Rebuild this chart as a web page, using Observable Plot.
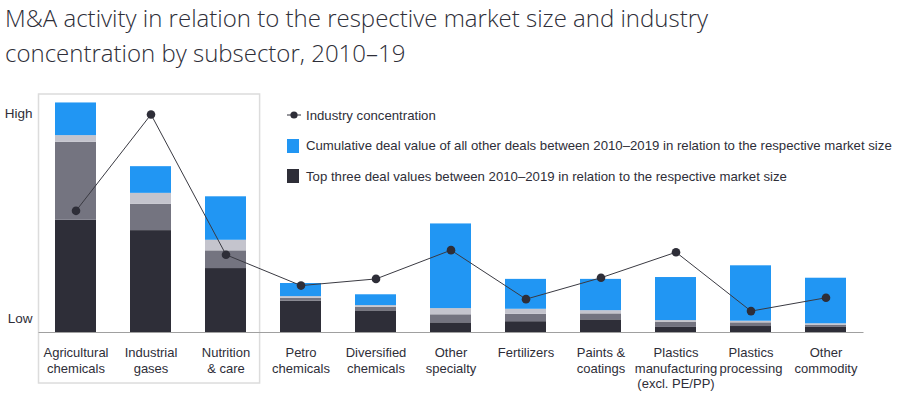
<!DOCTYPE html>
<html>
<head>
<meta charset="utf-8">
<script src="https://cdn.jsdelivr.net/npm/d3@7"></script>
<script src="https://cdn.jsdelivr.net/npm/@observablehq/plot@0.6"></script>
<style>
  html, body { margin: 0; padding: 0; background: #fff; }
  body { width: 900px; height: 398px; position: relative; overflow: hidden; font-family: "Liberation Sans", Arial, sans-serif; color: #2e2e38; }
  #title { position: absolute; left: 5px; top: 0; font-family: "Open Sans", "Liberation Sans", sans-serif; font-size: 24px; line-height: 35px; color: #2e2e38; font-weight: 300; white-space: nowrap; }
  #chart { position: absolute; left: 0; top: 80px; }
  #legend { position: absolute; left: 287px; top: 105px; font-size: 13.2px; color: #2e2e38; }
  .li { display: flex; align-items: center; height: 20px; margin-bottom: 10.5px; white-space: nowrap; }
  .sw { display: inline-block; width: 12px; height: 14px; margin-right: 7px; }
  .ln { margin-right: 5px; }
</style>
</head>
<body>
<div id="title">M&amp;A activity in relation to the respective market size and industry<br>concentration by subsector, 2010–19</div>
<div id="chart"></div>
<div id="legend"></div>
<script>
// ---- data ----
const categories = [
  "Agricultural\nchemicals", "Industrial\ngases", "Nutrition\n& care", "Petro\nchemicals",
  "Diversified\nchemicals", "Other\nspecialty", "Fertilizers", "Paints &\ncoatings",
  "Plastics\nmanufacturing\n(excl. PE/PP)", "Plastics\nprocessing", "Other\ncommodity"
];
const seriesNames = ["Top deal 1", "Top deal 2", "Top deal 3", "All other deals"];
const topDeal1 = [48.8, 44.3, 27.8, 13.6, 9.4, 4.2, 4.7, 5.5, 2.2, 2.6, 2.2];
const topDeal2 = [33.9, 11.4, 7.7, 1.3, 1.6, 3.5, 3.2, 2.6, 2.3, 1.6, 0.9];
const topDeal3 = [2.9, 4.8, 4.6, 0.7, 0.7, 2.7, 2.2, 1.4, 0.7, 0.7, 0.7];
const otherDeals = [14.2, 11.6, 18.9, 5.7, 4.7, 36.8, 13.0, 13.6, 18.7, 24.1, 19.8];
const concentration = [52.9, 94.8, 33.8, 20.4, 23.3, 35.8, 14.5, 23.8, 34.9, 9.3, 15.1];
const yTickValues = [6.1, 95.3];
const yTickLabels = ["Low", "High"];
const seriesColors = ["#2e2e38", "#747480", "#c4c4cd", "#2196f3"];
const legendItems = [
  {type: "line", label: "Industry concentration"},
  {type: "swatch", color: "#2196f3", label: "Cumulative deal value of all other deals between 2010–2019 in relation to the respective market size"},
  {type: "swatch", color: "#2e2e38", label: "Top three deal values between 2010–2019 in relation to the respective market size"}
];

// ---- tables ----
const seriesValues = [topDeal1, topDeal2, topDeal3, otherDeals];
const stacked = [];
categories.forEach((c, i) => seriesValues.forEach((arr, s) => stacked.push({category: c, series: seriesNames[s], value: arr[i]})));
const conc = categories.map((c, i) => ({category: c, value: concentration[i]}));

const highlightBox = (index, scales, values, dims) => {
  const x = scales.x;
  const bw = x.bandwidth();
  const step = x(categories[1]) - x(categories[0]);
  const pad = step - bw;
  const x1 = x(categories[0]) - pad / 2 + 0.5;
  const x2 = x(categories[2]) + bw + pad * 0.4;
  const y1 = dims.marginTop - 8;
  const y2 = dims.height - 15;
  const r = document.createElementNS("http://www.w3.org/2000/svg", "rect");
  r.setAttribute("x", x1); r.setAttribute("y", y1);
  r.setAttribute("width", x2 - x1); r.setAttribute("height", y2 - y1);
  r.setAttribute("fill", "none"); r.setAttribute("stroke", "#dcdcdc"); r.setAttribute("stroke-width", 1.5);
  return r;
};

const plot = Plot.plot({
  width: 900,
  height: 318,
  marginTop: 22,
  marginBottom: 66,
  marginLeft: 38.5,
  marginRight: 36.5,
  style: {fontFamily: "'Liberation Sans', Arial, sans-serif", color: "#2e2e38", background: "#fff", overflow: "visible"},
  x: {domain: categories, paddingInner: 0.447, paddingOuter: 0.2235, align: 0.5, label: null},
  y: {domain: [0, 100], label: null},
  color: {domain: seriesNames, range: seriesColors},
  marks: [
    highlightBox,
    Plot.barY(stacked, {x: "category", y: "value", fill: "series", order: seriesNames}),
    Plot.ruleY([0], {stroke: "#a0a0a0", strokeWidth: 1}),
    Plot.line(conc, {x: "category", y: "value", stroke: "#3a3a42", strokeWidth: 1}),
    Plot.dot(conc, {x: "category", y: "value", r: 4.3, fill: "#2e2e38", stroke: "none"}),
    Plot.axisX({tickSize: 0, tickPadding: 14, fontSize: 13, lineHeight: 1.18, label: null, fill: "#2e2e38"}),
    Plot.axisY({ticks: yTickValues, tickFormat: (d, i) => yTickLabels[i], tickSize: 0, tickPadding: 6.5, fontSize: 13.5, label: null, fill: "#2e2e38"})
  ]
});
document.getElementById("chart").appendChild(plot);

// ---- legend ----
const leg = document.getElementById("legend");
legendItems.forEach(item => {
  const row = document.createElement("div");
  row.className = "li";
  if (item.type === "line") {
    row.innerHTML = '<svg class="ln" width="14" height="10"><line x1="0" x2="14" y1="5" y2="5" stroke="#2e2e38" stroke-width="1"/><circle cx="7" cy="5" r="3.6" fill="#2e2e38"/></svg>';
  } else {
    const sw = document.createElement("span");
    sw.className = "sw"; sw.style.background = item.color;
    row.appendChild(sw);
  }
  const t = document.createElement("span");
  t.textContent = item.label;
  row.appendChild(t);
  leg.appendChild(row);
});
</script>
</body>
</html>
